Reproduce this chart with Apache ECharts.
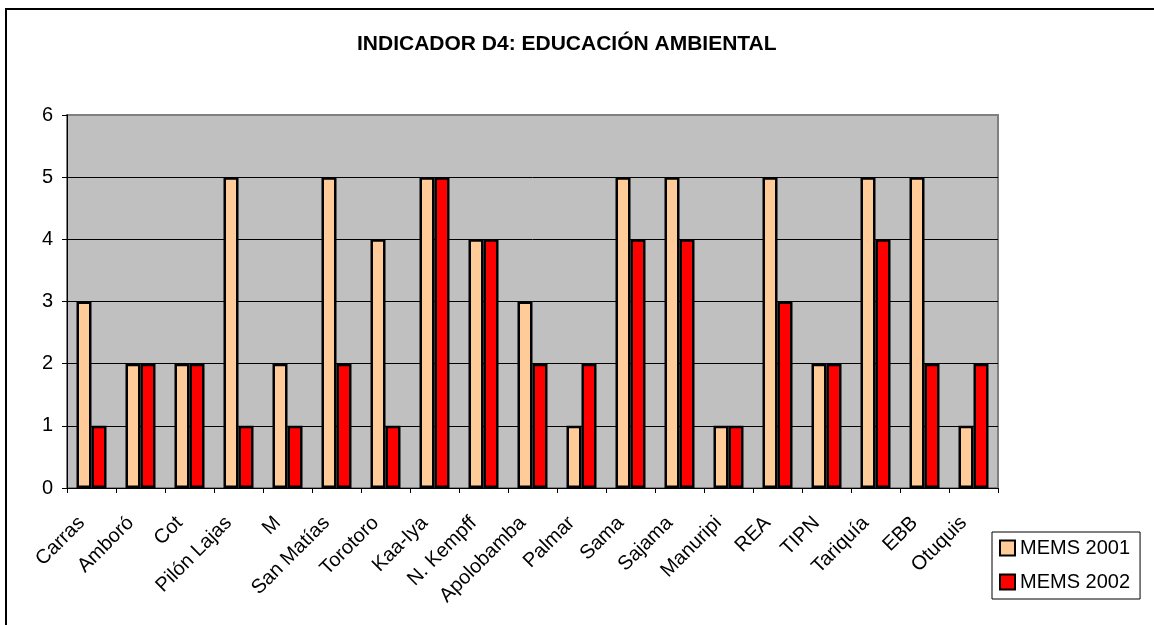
<!DOCTYPE html>
<html>
<head>
<meta charset="utf-8">
<script src="https://cdn.jsdelivr.net/npm/echarts@6/dist/echarts.min.js"></script>
<style>
html,body{margin:0;padding:0;background:#fff;}
#chart{width:1154px;height:625px;}
</style>
</head>
<body>
<div id="chart"></div>
<script>
// nombres de áreas (recortados como en el original)
var areas = ['Carras', 'Amboró', 'Cot', 'Pilón Lajas', 'M', 'San Matías', 'Torotoro', 'Kaa-Iya',
	'N. Kempff', 'Apolobamba', 'Palmar', 'Sama', 'Sajama', 'Manuripi', 'REA', 'TIPN',
	'Tariquía', 'EBB', 'Otuquis'];
var mems2001 = [3, 2, 2, 5, 2, 5, 4, 5, 4, 3, 1, 5, 5, 1, 5, 2, 5, 5, 1];
var mems2002 = [1, 2, 2, 1, 1, 2, 1, 5, 4, 2, 2, 4, 4, 1, 3, 2, 4, 2, 2];
var yTicks = [0, 1, 2, 3, 4, 5, 6];

var fuente = 'Arial, "Liberation Sans", sans-serif';
var myChart = echarts.init(document.getElementById('chart'));

var option = {
	animation: false,
	textStyle: {fontFamily: fuente, color: '#000'},
	title: {
		text: 'INDICADOR D4: EDUCACIÓN AMBIENTAL',
		left: 352,
		top: 29,
		textStyle: {fontFamily: fuente, fontSize: 21, fontWeight: 'bold', color: '#000'}
	},
	graphic: [{
		type: 'rect',
		shape: {x: 6, y: 9, width: 1300, height: 800},
		style: {fill: 'none', stroke: '#000', lineWidth: 2},
		silent: true
	}],
	grid: {
		left: 67,
		top: 115,
		width: 931,
		height: 373,
		show: true,
		backgroundColor: '#C0C0C0',
		borderColor: '#808080',
		borderWidth: 2
	},
	legend: {
		orient: 'vertical',
		left: 992,
		top: 532,
		padding: [6, 10, 7, 7],
		itemWidth: 15,
		itemHeight: 15,
		itemGap: 14,
		borderColor: '#000',
		borderWidth: 1,
		textStyle: {fontFamily: fuente, fontSize: 20, lineHeight: 20, color: '#000'},
		data: [{name: 'MEMS 2001', icon: 'rect'}, {name: 'MEMS 2002', icon: 'rect'}]
	},
	xAxis: {
		type: 'category',
		data: areas,
		axisLine: {lineStyle: {color: '#000', width: 1}},
		axisTick: {show: true, alignWithLabel: false, length: 5, lineStyle: {color: '#000'}},
		axisLabel: {
			interval: 0,
			rotate: 45,
			margin: 22,
			padding: [0, 14, 0, 0],
			fontSize: 20,
			fontFamily: fuente,
			color: '#000'
		}
	},
	yAxis: {
		type: 'value',
		min: yTicks[0],
		max: yTicks[yTicks.length - 1],
		interval: 1,
		axisLine: {show: true, lineStyle: {color: '#000', width: 1}},
		axisTick: {show: true, length: 5, lineStyle: {color: '#000'}},
		axisLabel: {margin: 14, fontSize: 20, fontFamily: fuente, color: '#000'},
		splitLine: {show: true, showMaxLine: false, lineStyle: {color: '#000', width: 1}}
	},
	series: [
		{
			name: 'MEMS 2001',
			type: 'bar',
			barWidth: 15,
			barGap: '0%',
			itemStyle: {color: '#FFCC99', borderColor: '#000', borderWidth: 2.5},
			data: mems2001
		},
		{
			name: 'MEMS 2002',
			type: 'bar',
			barWidth: 15,
			barGap: '0%',
			itemStyle: {color: '#FF0000', borderColor: '#000', borderWidth: 2.5},
			data: mems2002
		}
	]
};
myChart.setOption(option);
</script>
</body>
</html>
